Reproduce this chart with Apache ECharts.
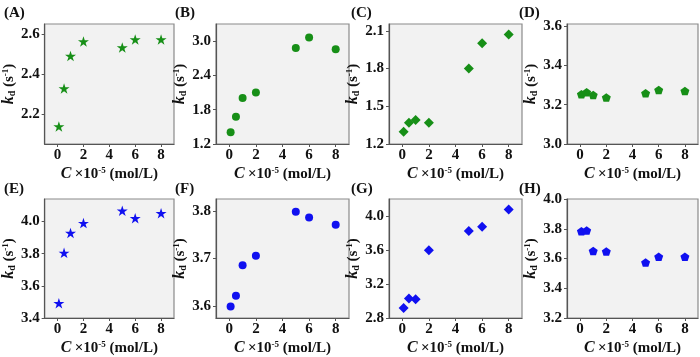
<!DOCTYPE html>
<html><head><meta charset="utf-8">
<script src="https://cdn.jsdelivr.net/npm/echarts@6/dist/echarts.min.js"></script>
<style>html,body{margin:0;padding:0;background:#fff}#c{width:700px;height:357px}</style>
</head><body><div id="c"></div>
<script>
// Data
const xValues = [0.1, 0.5, 1, 2, 5, 6, 8];
const seriesA = [2.138, 2.327, 2.490, 2.562, 2.533, 2.572, 2.572];
const seriesB = [1.406, 1.676, 2.006, 2.100, 2.882, 3.064, 2.858];
const seriesC = [1.298, 1.370, 1.391, 1.370, 1.800, 2.002, 2.071];
const seriesD = [3.253, 3.263, 3.249, 3.236, 3.258, 3.275, 3.270];
const seriesE = [3.492, 3.805, 3.928, 3.990, 4.067, 4.020, 4.051];
const seriesF = [3.599, 3.622, 3.686, 3.706, 3.798, 3.786, 3.771];
const seriesG = [2.918, 3.030, 3.020, 3.597, 3.823, 3.873, 4.076];
const seriesH = [3.784, 3.788, 3.651, 3.647, 3.573, 3.611, 3.611];
const xTicks = [0, 2, 4, 6, 8];
const yTicksA = [2.2, 2.4, 2.6];
const yTicksB = [1.2, 1.8, 2.4, 3.0];
const yTicksC = [1.2, 1.5, 1.8, 2.1];
const yTicksD = [3.0, 3.2, 3.4, 3.6];
const yTicksE = [3.4, 3.6, 3.8, 4.0];
const yTicksF = [3.6, 3.7, 3.8];
const yTicksG = [2.8, 3.2, 3.6, 4.0];
const yTicksH = [3.2, 3.4, 3.6, 3.8, 4.0];
const panelLabels = ['(A)', '(B)', '(C)', '(D)', '(E)', '(F)', '(G)', '(H)'];

const STAR = 'path://M100,0L122.45,69.1L195.1,69.1L136.3,111.8L158.8,180.9L100,138.2L41.2,180.9L63.7,111.8L4.9,69.1L77.55,69.1Z';
const PENT = 'path://M100,0L195.1,69.1L158.8,180.9L41.2,180.9L4.9,69.1Z';
const GREEN = '#178f17';
const BLUE = '#1010f0';
const FONT = '"Liberation Serif", "DejaVu Serif", serif';

const panels = [
  {data: seriesA, ticks: yTicksA, min: 2.05, max: 2.65, sym: STAR, size: [11, 10.5], color: GREEN},
  {data: seriesB, ticks: yTicksB, min: 1.2, max: 3.3, sym: 'circle', size: 8, color: GREEN},
  {data: seriesC, ticks: yTicksC, min: 1.2, max: 2.155, sym: 'diamond', size: [10, 10], color: GREEN},
  {data: seriesD, ticks: yTicksD, min: 3.0, max: 3.61, sym: PENT, size: [9, 8.5], color: GREEN},
  {data: seriesE, ticks: yTicksE, min: 3.4, max: 4.14, sym: STAR, size: [11, 10.5], color: BLUE},
  {data: seriesF, ticks: yTicksF, min: 3.575, max: 3.825, sym: 'circle', size: 8, color: BLUE},
  {data: seriesG, ticks: yTicksG, min: 2.8, max: 4.2, sym: 'diamond', size: [10, 10], color: BLUE},
  {data: seriesH, ticks: yTicksH, min: 3.2, max: 4.0, sym: PENT, size: [9, 8.5], color: BLUE}
];
const lefts = [40, 216, 389, 567];
const widths = [134, 133, 133, 131];
const tops = [24, 199];
const heights = [120, 121];
const labelPos = [[4, 6], [175, 6], [351, 6], [519, 6], [4, 182], [175, 182], [351, 182], [519, 182]];

const grid = [], xAxis = [], yAxis = [], series = [], title = [];
panels.forEach((p, i) => {
  const col = i % 4, row = Math.floor(i / 4);
  grid.push({left: lefts[col], top: tops[row], width: widths[col], height: heights[row],
    show: true, backgroundColor: '#f2f2f2', borderColor: '#8a8a8a', borderWidth: 1.2});
  xAxis.push({type: 'value', gridIndex: i, min: -1, max: 9,
    name: '{c|C} {t|×10}{s|-5}{t| (mol/L)}', nameLocation: 'middle', nameGap: 22,
    nameTextStyle: {rich: {
      c: {fontFamily: FONT, fontStyle: 'italic', fontWeight: 'bold', fontSize: 16, color: '#111'},
      t: {fontFamily: FONT, fontWeight: 'bold', fontSize: 15, color: '#111'},
      s: {fontFamily: FONT, fontWeight: 'bold', fontSize: 9, color: '#111', verticalAlign: 'top', padding: [0, 0, 6, 0]}
    }},
    splitLine: {show: false},
    axisLine: {show: true, onZero: false, lineStyle: {color: '#555', width: 1.2}},
    axisTick: {show: true, inside: false, length: 3, customValues: xTicks, lineStyle: {color: '#555'}},
    axisLabel: {customValues: xTicks, margin: 4, fontFamily: FONT, fontWeight: 'bold', fontSize: 15, color: '#111'}
  });
  yAxis.push({type: 'value', gridIndex: i, min: p.min, max: p.max,
    name: '{k|k}{d|d}{t| (s}{s|-1}{t|)}', nameLocation: 'middle', nameGap: 26,
    nameTextStyle: {rich: {
      k: {fontFamily: FONT, fontStyle: 'italic', fontWeight: 'bold', fontSize: 16, color: '#111'},
      d: {fontFamily: FONT, fontWeight: 'bold', fontSize: 10, color: '#111', verticalAlign: 'bottom', padding: [6, 0, 0, 0]},
      t: {fontFamily: FONT, fontWeight: 'bold', fontSize: 15, color: '#111'},
      s: {fontFamily: FONT, fontWeight: 'bold', fontSize: 9, color: '#111', verticalAlign: 'top', padding: [0, 0, 6, 0]}
    }},
    splitLine: {show: false},
    axisLine: {show: true, onZero: false, lineStyle: {color: '#555', width: 1.2}},
    axisTick: {show: true, inside: false, length: 3, customValues: p.ticks, lineStyle: {color: '#555'}},
    axisLabel: {customValues: p.ticks, margin: 5, fontFamily: FONT, fontWeight: 'bold', fontSize: 15, color: '#111',
      formatter: v => Number(v).toFixed(1)}
  });
  series.push({type: 'scatter', xAxisIndex: i, yAxisIndex: i,
    data: xValues.map((x, j) => [x, p.data[j]]),
    symbol: p.sym, symbolSize: p.size, itemStyle: {color: p.color, opacity: 1}});
  title.push({text: panelLabels[i], left: labelPos[i][0], top: labelPos[i][1], padding: 0,
    textStyle: {fontFamily: FONT, fontWeight: 'bold', fontSize: 15, color: '#111'}});
});

const chart = echarts.init(document.getElementById('c'), null, {renderer: 'canvas'});
chart.setOption({animation: false, backgroundColor: '#fff', title, grid, xAxis, yAxis, series});
</script></body></html>
